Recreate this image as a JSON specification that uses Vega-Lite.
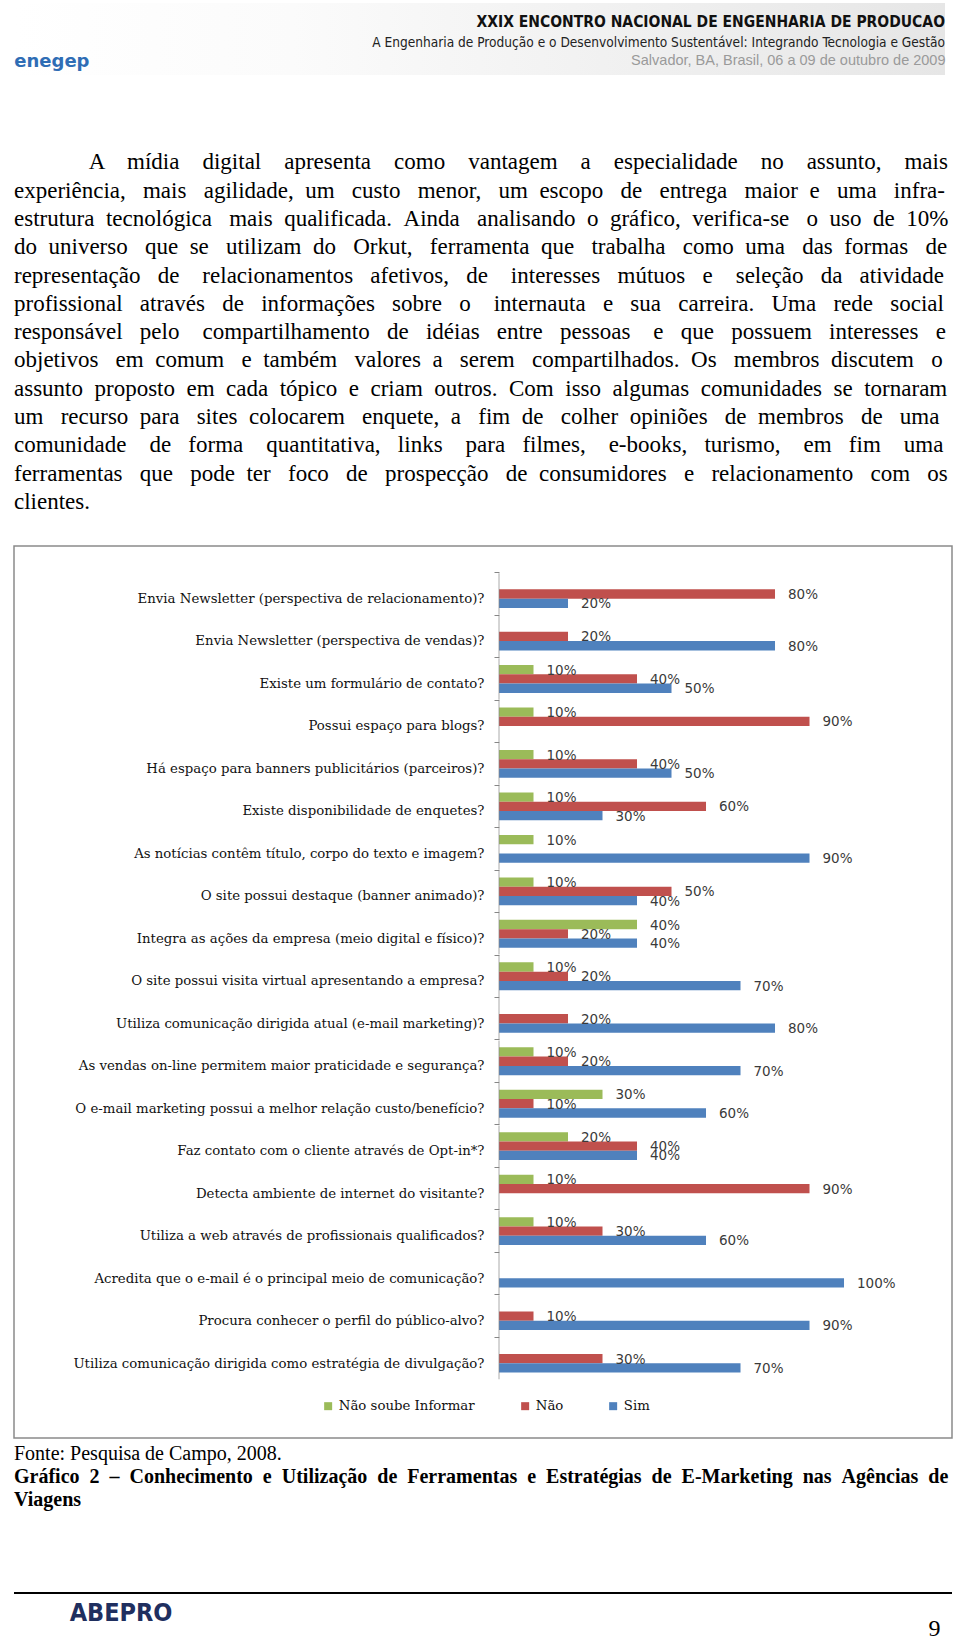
{
  "$schema": "https://vega.github.io/schema/vega-lite/v6.json",
  "background": "white",
  "padding": {"left": 13, "top": 3, "right": 0, "bottom": 0},
  "config": {"view": {"stroke": null}, "font": "Liberation Serif"},
  "spacing": 75,
  "vconcat": [
    {
      "width": 931,
      "height": 72,
      "data": {"values": [{}]},
      "title": {
        "text": "XXIX ENCONTRO NACIONAL DE ENGENHARIA DE PRODUCAO",
        "subtitle": "A Engenharia de Produção e o Desenvolvimento Sustentável:  Integrando Tecnologia e Gestão",
        "anchor": "end",
        "frame": "group",
        "orient": "top",
        "offset": -47,
        "font": "Liberation Sans Narrow, DejaVu Sans Condensed, Liberation Sans",
        "fontSize": 15.5,
        "fontWeight": "bold",
        "color": "#111111",
        "subtitleFont": "Liberation Sans Narrow, DejaVu Sans Condensed, Liberation Sans",
        "subtitleFontSize": 13.6,
        "subtitleColor": "#222222",
        "subtitlePadding": 6
      },
      "mark": {
        "type": "rect",
        "color": {
          "gradient": "linear",
          "x1": 0, "y1": 0, "x2": 1, "y2": 0,
          "stops": [
            {"offset": 0, "color": "#ffffff"},
            {"offset": 0.3, "color": "#fbfbfb"},
            {"offset": 1, "color": "#e6e6e6"}
          ]
        }
      },
      "encoding": {
        "x": {
          "datum": 0,
          "type": "quantitative",
          "scale": {"domain": [0, 1], "nice": false},
          "axis": {
            "orient": "bottom",
            "offset": -22,
            "zindex": 2,
            "domain": false,
            "ticks": false,
            "labels": false,
            "grid": false,
            "title": "Salvador, BA, Brasil,  06 a 09 de outubro de 2009",
            "titleAnchor": "end",
            "titleFont": "Liberation Sans",
            "titleFontSize": 14.5,
            "titleFontWeight": "normal",
            "titleColor": "#9a9a9a",
            "titlePadding": 0
          }
        },
        "x2": {"datum": 1},
        "y": {
          "datum": 0,
          "type": "quantitative",
          "scale": {"domain": [0, 1], "nice": false},
          "axis": {
            "orient": "left",
            "offset": -78,
            "zindex": 2,
            "domain": false,
            "ticks": false,
            "labels": false,
            "grid": false,
            "title": "enegep",
            "titleAngle": 0,
            "titleAlign": "right",
            "titleBaseline": "middle",
            "titleY": 58,
            "titlePadding": 3,
            "titleFont": "DejaVu Sans",
            "titleFontSize": 18,
            "titleFontWeight": "bold",
            "titleColor": "#2f6db5"
          }
        },
        "y2": {"datum": 1}
      }
    },
    {
      "spacing": 4,
      "vconcat": [
        {
          "width": 938,
          "height": 892,
          "view": {"stroke": "#8a8a8a", "strokeWidth": 1.5},
          "title": {
            "text": [
              "\u200b\u00a0\u00a0\u00a0\u00a0\u00a0\u00a0\u00a0\u00a0\u00a0\u00a0\u00a0\u00a0\u00a0A \u00a0\u00a0\u00a0mídia \u00a0\u00a0\u00a0digital \u00a0\u00a0\u00a0apresenta \u00a0\u00a0\u00a0como \u00a0\u00a0\u00a0vantagem \u00a0\u00a0\u00a0a \u00a0\u00a0\u00a0especialidade \u00a0\u00a0\u00a0no \u00a0\u00a0\u00a0assunto, \u00a0\u00a0\u00a0mais",
              "experiência, \u00a0\u00a0mais \u00a0\u00a0agilidade, \u00a0um \u00a0\u00a0custo \u00a0\u00a0menor, \u00a0\u00a0um \u00a0escopo \u00a0\u00a0de \u00a0\u00a0entrega \u00a0\u00a0maior \u00a0e \u00a0\u00a0uma \u00a0\u00a0infra-",
              "estrutura \u00a0tecnológica \u00a0\u00a0mais \u00a0qualificada. \u00a0Ainda \u00a0\u00a0analisando \u00a0o \u00a0gráfico, \u00a0verifica-se \u00a0\u00a0o \u00a0uso \u00a0de \u00a010%",
              "do \u00a0universo \u00a0\u00a0que \u00a0se \u00a0\u00a0utilizam \u00a0do \u00a0\u00a0Orkut, \u00a0\u00a0ferramenta \u00a0que \u00a0\u00a0trabalha \u00a0\u00a0como \u00a0uma \u00a0\u00a0das \u00a0formas \u00a0\u00a0de",
              "representação \u00a0\u00a0de \u00a0\u00a0\u00a0relacionamentos \u00a0\u00a0afetivos, \u00a0\u00a0de \u00a0\u00a0\u00a0interesses \u00a0\u00a0mútuos \u00a0\u00a0e \u00a0\u00a0\u00a0seleção \u00a0\u00a0da \u00a0\u00a0atividade",
              "profissional \u00a0\u00a0através \u00a0\u00a0de \u00a0\u00a0informações \u00a0\u00a0sobre \u00a0\u00a0o \u00a0\u00a0\u00a0internauta \u00a0\u00a0e \u00a0\u00a0sua \u00a0\u00a0carreira. \u00a0\u00a0Uma \u00a0\u00a0rede \u00a0\u00a0social",
              "responsável \u00a0\u00a0pelo \u00a0\u00a0\u00a0compartilhamento \u00a0\u00a0de \u00a0\u00a0idéias \u00a0\u00a0entre \u00a0\u00a0pessoas \u00a0\u00a0\u00a0e \u00a0\u00a0que \u00a0\u00a0possuem \u00a0\u00a0interesses \u00a0\u00a0e",
              "objetivos \u00a0\u00a0em \u00a0comum \u00a0\u00a0e \u00a0também \u00a0\u00a0valores \u00a0a \u00a0\u00a0serem \u00a0\u00a0compartilhados. \u00a0Os \u00a0\u00a0membros \u00a0discutem \u00a0\u00a0o",
              "assunto \u00a0proposto \u00a0em \u00a0cada \u00a0tópico \u00a0e \u00a0criam \u00a0outros. \u00a0Com \u00a0isso \u00a0algumas \u00a0comunidades \u00a0se \u00a0tornaram",
              "um \u00a0\u00a0recurso \u00a0para \u00a0\u00a0sites \u00a0colocarem \u00a0\u00a0enquete, \u00a0a \u00a0\u00a0fim \u00a0de \u00a0\u00a0colher \u00a0opiniões \u00a0\u00a0de \u00a0membros \u00a0\u00a0de \u00a0\u00a0uma",
              "comunidade \u00a0\u00a0\u00a0de \u00a0\u00a0forma \u00a0\u00a0\u00a0quantitativa, \u00a0\u00a0links \u00a0\u00a0\u00a0para \u00a0\u00a0filmes, \u00a0\u00a0\u00a0e-books, \u00a0\u00a0turismo, \u00a0\u00a0\u00a0em \u00a0\u00a0fim \u00a0\u00a0\u00a0uma",
              "ferramentas \u00a0\u00a0que \u00a0\u00a0pode \u00a0ter \u00a0\u00a0foco \u00a0\u00a0de \u00a0\u00a0prospecção \u00a0\u00a0de \u00a0consumidores \u00a0\u00a0e \u00a0\u00a0relacionamento \u00a0\u00a0com \u00a0\u00a0os",
              "clientes."
            ],
            "anchor": "start",
            "frame": "group",
            "offset": 32,
            "font": "Liberation Serif",
            "fontSize": 23,
            "fontWeight": "normal",
            "color": "#000000",
            "lineHeight": 28.3
          },
          "data": {
            "values": [
              {"q": "Envia Newsletter (perspectiva de relacionamento)?", "s": "Não", "v": 0.8},
              {"q": "Envia Newsletter (perspectiva de relacionamento)?", "s": "Sim", "v": 0.2},
              {"q": "Envia Newsletter (perspectiva de vendas)?", "s": "Não", "v": 0.2},
              {"q": "Envia Newsletter (perspectiva de vendas)?", "s": "Sim", "v": 0.8},
              {"q": "Existe um formulário de contato?", "s": "Não soube Informar", "v": 0.1},
              {"q": "Existe um formulário de contato?", "s": "Não", "v": 0.4},
              {"q": "Existe um formulário de contato?", "s": "Sim", "v": 0.5},
              {"q": "Possui espaço para blogs?", "s": "Não soube Informar", "v": 0.1},
              {"q": "Possui espaço para blogs?", "s": "Não", "v": 0.9},
              {"q": "Há espaço para banners publicitários (parceiros)?", "s": "Não soube Informar", "v": 0.1},
              {"q": "Há espaço para banners publicitários (parceiros)?", "s": "Não", "v": 0.4},
              {"q": "Há espaço para banners publicitários (parceiros)?", "s": "Sim", "v": 0.5},
              {"q": "Existe disponibilidade de enquetes?", "s": "Não soube Informar", "v": 0.1},
              {"q": "Existe disponibilidade de enquetes?", "s": "Não", "v": 0.6},
              {"q": "Existe disponibilidade de enquetes?", "s": "Sim", "v": 0.3},
              {"q": "As notícias contêm título, corpo do texto e imagem?", "s": "Não soube Informar", "v": 0.1},
              {"q": "As notícias contêm título, corpo do texto e imagem?", "s": "Sim", "v": 0.9},
              {"q": "O site possui destaque (banner animado)?", "s": "Não soube Informar", "v": 0.1},
              {"q": "O site possui destaque (banner animado)?", "s": "Não", "v": 0.5},
              {"q": "O site possui destaque (banner animado)?", "s": "Sim", "v": 0.4},
              {"q": "Integra as ações da empresa (meio digital e físico)?", "s": "Não soube Informar", "v": 0.4},
              {"q": "Integra as ações da empresa (meio digital e físico)?", "s": "Não", "v": 0.2},
              {"q": "Integra as ações da empresa (meio digital e físico)?", "s": "Sim", "v": 0.4},
              {"q": "O site possui visita virtual apresentando a empresa?", "s": "Não soube Informar", "v": 0.1},
              {"q": "O site possui visita virtual apresentando a empresa?", "s": "Não", "v": 0.2},
              {"q": "O site possui visita virtual apresentando a empresa?", "s": "Sim", "v": 0.7},
              {"q": "Utiliza comunicação dirigida atual (e-mail marketing)?", "s": "Não", "v": 0.2},
              {"q": "Utiliza comunicação dirigida atual (e-mail marketing)?", "s": "Sim", "v": 0.8},
              {"q": "As vendas on-line permitem maior praticidade e segurança?", "s": "Não soube Informar", "v": 0.1},
              {"q": "As vendas on-line permitem maior praticidade e segurança?", "s": "Não", "v": 0.2},
              {"q": "As vendas on-line permitem maior praticidade e segurança?", "s": "Sim", "v": 0.7},
              {"q": "O e-mail marketing possui a melhor relação custo/benefício?", "s": "Não soube Informar", "v": 0.3},
              {"q": "O e-mail marketing possui a melhor relação custo/benefício?", "s": "Não", "v": 0.1},
              {"q": "O e-mail marketing possui a melhor relação custo/benefício?", "s": "Sim", "v": 0.6},
              {"q": "Faz contato com o cliente através de Opt-in*?", "s": "Não soube Informar", "v": 0.2},
              {"q": "Faz contato com o cliente através de Opt-in*?", "s": "Não", "v": 0.4},
              {"q": "Faz contato com o cliente através de Opt-in*?", "s": "Sim", "v": 0.4},
              {"q": "Detecta ambiente de internet do visitante?", "s": "Não soube Informar", "v": 0.1},
              {"q": "Detecta ambiente de internet do visitante?", "s": "Não", "v": 0.9},
              {"q": "Utiliza a web através de profissionais qualificados?", "s": "Não soube Informar", "v": 0.1},
              {"q": "Utiliza a web através de profissionais qualificados?", "s": "Não", "v": 0.3},
              {"q": "Utiliza a web através de profissionais qualificados?", "s": "Sim", "v": 0.6},
              {"q": "Acredita que o e-mail é o principal meio de comunicação?", "s": "Sim", "v": 1.0},
              {"q": "Procura conhecer o perfil do público-alvo?", "s": "Não", "v": 0.1},
              {"q": "Procura conhecer o perfil do público-alvo?", "s": "Sim", "v": 0.9},
              {"q": "Utiliza comunicação dirigida como estratégia de divulgação?", "s": "Não", "v": 0.3},
              {"q": "Utiliza comunicação dirigida como estratégia de divulgação?", "s": "Sim", "v": 0.7}
            ]
          },
          "encoding": {
            "y": {
              "field": "q",
              "type": "nominal",
              "sort": null,
              "scale": {"paddingInner": 0, "paddingOuter": 1.221, "align": 0.315},
              "axis": {
                "orient": "left",
                "offset": -485,
                "domain": false,
                "grid": false,
                "ticks": true,
                "tickSize": 5,
                "tickColor": "#868686",
                "tickWidth": 1,
                "bandPosition": 0,
                "labelOffset": 5,
                "labelPadding": 10,
                "labelFont": "DejaVu Serif",
                "labelFontSize": 13.3,
                "labelColor": "#111111",
                "labelLimit": 600,
                "title": null
              }
            }
          },
          "layer": [
            {
              "mark": {"type": "bar"},
              "encoding": {
                "x": {
                  "field": "v",
                  "type": "quantitative",
                  "scale": {"domain": [-1.4058, 1.313], "nice": false, "zero": false},
                  "axis": null
                },
                "yOffset": {
                  "field": "s",
                  "type": "nominal",
                  "scale": {"domain": ["Não soube Informar", "Não", "Sim"], "paddingInner": 0, "paddingOuter": 0.786}
                },
                "color": {
                  "field": "s",
                  "type": "nominal",
                  "scale": {"domain": ["Não soube Informar", "Não", "Sim"], "range": ["#9BBB59", "#C0504D", "#4F81BD"]},
                  "legend": {
                    "orient": "none",
                    "legendX": 307.5,
                    "legendY": 1396.5,
                    "direction": "horizontal",
                    "title": null,
                    "symbolType": "square",
                    "symbolSize": 64,
                    "symbolStrokeWidth": 0,
                    "labelFont": "DejaVu Serif",
                    "labelFontSize": 13.3,
                    "labelColor": "#111111",
                    "labelLimit": 300,
                    "labelOffset": 4,
                    "columnPadding": 43,
                    "padding": 0
                  }
                }
              }
            },
            {
              "mark": {"type": "text", "align": "left", "baseline": "middle", "dx": 13, "dy": 1, "font": "DejaVu Sans", "fontSize": 13.5, "color": "#3a3a3a"},
              "encoding": {
                "x": {"field": "v", "type": "quantitative"},
                "yOffset": {"field": "s", "type": "nominal", "scale": {"domain": ["Não soube Informar", "Não", "Sim"]}},
                "text": {"field": "v", "type": "quantitative", "format": ".0%"}
              }
            },
            {
              "transform": [{"aggregate": [{"op": "count", "as": "n"}], "groupby": ["q"]}],
              "mark": {"type": "tick", "orient": "vertical", "size": 41.6, "thickness": 1, "color": "#868686"},
              "encoding": {
                "x": {"datum": 0, "type": "quantitative"}
              }
            }
          ]
        },
        {
          "width": 938,
          "height": 2,
          "data": {"values": [{}]},
          "title": {
            "text": "Fonte: Pesquisa de Campo, 2008.",
            "subtitle": ["Gráfico \u00a02 \u00a0– \u00a0Conhecimento \u00a0e \u00a0Utilização \u00a0de \u00a0Ferramentas \u00a0e \u00a0Estratégias \u00a0de \u00a0E-Marketing \u00a0nas \u00a0Agências \u00a0de", "Viagens"],
            "anchor": "start",
            "frame": "group",
            "offset": 82,
            "font": "Liberation Serif",
            "fontSize": 20,
            "fontWeight": "normal",
            "color": "#000000",
            "subtitleFont": "Liberation Serif",
            "subtitleFontSize": 20,
            "subtitleFontWeight": "bold",
            "subtitleColor": "#000000",
            "subtitleLineHeight": 23.2,
            "subtitlePadding": 3
          },
          "mark": {"type": "rect", "color": "#000000"},
          "encoding": {
            "x": {
              "datum": 0,
              "type": "quantitative",
              "scale": {"domain": [0, 1], "nice": false},
              "axis": {
                "orient": "bottom",
                "domain": false,
                "ticks": false,
                "labels": false,
                "grid": false,
                "title": "9\u00a0\u00a0\u200b",
                "titleAnchor": "end",
                "titleFont": "Liberation Serif",
                "titleFontSize": 24,
                "titleFontWeight": "normal",
                "titleColor": "#000000",
                "titlePadding": 22
              }
            },
            "x2": {"datum": 1},
            "y": {
              "datum": 0,
              "type": "quantitative",
              "scale": {"domain": [0, 1], "nice": false},
              "axis": {
                "orient": "left",
                "offset": -160,
                "domain": false,
                "ticks": false,
                "labels": false,
                "grid": false,
                "title": "ABEPRO",
                "titleAngle": 0,
                "titleAlign": "right",
                "titleBaseline": "middle",
                "titleY": 20,
                "titlePadding": 2,
                "titleFont": "Liberation Sans Narrow, DejaVu Sans Condensed, Liberation Sans",
                "titleFontSize": 25,
                "titleFontWeight": "bold",
                "titleColor": "#1f2f5f"
              }
            },
            "y2": {"datum": 1}
          }
        }
      ]
    }
  ]
}
